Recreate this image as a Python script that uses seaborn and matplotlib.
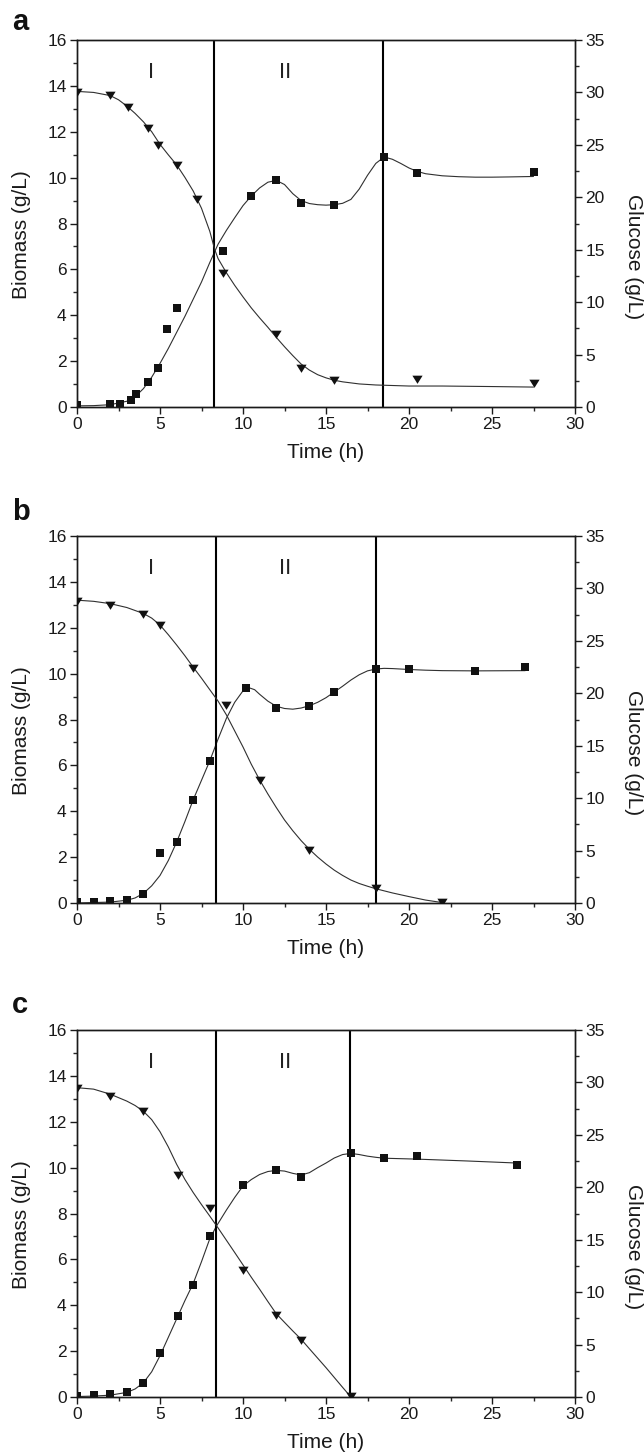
import matplotlib.pyplot as plt
import matplotlib.ticker as mticker
import seaborn as sns

sns.set_style("ticks")
plt.rcParams["font.family"] = ["Liberation Sans", "DejaVu Sans"]
plt.rcParams["axes.linewidth"] = 1.0

# -----------------------------
# Panel a  (biomass g/L, glucose g/L, time h)
# -----------------------------
a_bio_t = [0, 2.0, 2.6, 3.25, 3.55, 4.25, 4.85, 5.45, 6.05, 8.8, 10.5, 12.0, 13.5, 15.5, 18.5, 20.5, 27.5]
a_bio = [0.07, 0.12, 0.15, 0.3, 0.58, 1.1, 1.7, 3.42, 4.3, 6.8, 9.21, 9.9, 8.91, 8.8, 10.91, 10.21, 10.25]
a_glu_t = [0, 2.0, 3.1, 4.25, 4.85, 6.0, 7.2, 8.8, 12.0, 13.5, 15.5, 20.5, 27.5]
a_glu = [30.0, 29.8, 28.6, 26.6, 25.0, 23.1, 19.8, 12.8, 7.0, 3.7, 2.6, 2.65, 2.25]

a_bio_fit_t = [0, 1, 2, 3, 3.5, 4, 4.5, 5, 5.5, 6, 6.5, 7, 7.5, 8, 8.5, 9, 9.5, 10, 10.5, 11,
               11.5, 12, 12.5, 13, 13.5, 14, 14.5, 15, 15.5, 16, 16.5, 17, 17.5, 18, 18.5, 19,
               19.5, 20, 20.5, 21, 22, 23, 24, 25, 26, 27.5]
a_bio_fit = [0.05, 0.06, 0.1, 0.25, 0.45, 0.8, 1.3, 1.9, 2.55, 3.25, 3.95, 4.7, 5.45, 6.3, 7.1, 7.7,
             8.25, 8.78, 9.2, 9.55, 9.8, 9.88, 9.7, 9.3, 9.0, 8.87, 8.82, 8.8, 8.82, 8.88, 9.05,
             9.5, 10.1, 10.62, 10.9, 10.8, 10.62, 10.42, 10.27, 10.17, 10.08, 10.04, 10.02, 10.02,
             10.03, 10.05]
a_glu_fit_t = [0, 1, 2, 2.5, 3, 3.5, 4, 4.5, 5, 5.5, 6, 6.5, 7, 7.5, 8, 8.3, 8.5, 9, 9.5, 10,
               10.5, 11, 11.5, 12, 12.5, 13, 13.5, 14, 14.5, 15, 15.5, 16, 17, 18, 19, 20, 22, 25, 27.5]
a_glu_fit = [30.1, 30.0, 29.7, 29.3, 28.7, 28.0, 27.2, 26.25, 25.05, 24.05, 23.1, 21.9, 20.6, 18.95,
             16.75, 15.0, 14.15, 12.8, 11.6, 10.5, 9.45, 8.5, 7.6, 6.65, 5.75, 4.9, 4.1, 3.52,
             3.08, 2.78, 2.55, 2.4, 2.2, 2.1, 2.05, 2.0, 2.0, 1.95, 1.9]
a_phases = [8.25, 18.45]

# -----------------------------
# Panel b
# -----------------------------
b_bio_t = [0, 1, 2, 3, 4, 5, 6, 7, 8, 10.2, 12, 14, 15.5, 18, 20, 24, 27]
b_bio = [0.04, 0.04, 0.08, 0.15, 0.41, 2.19, 2.67, 4.49, 6.18, 9.38, 8.5, 8.6, 9.2, 10.2, 10.2, 10.1, 10.3]
b_glu_t = [0, 2, 4, 5, 7, 9, 11, 14, 18, 22]
b_glu = [28.8, 28.4, 27.6, 26.5, 22.4, 18.9, 11.75, 5.1, 1.4, 0.05]

b_bio_fit_t = [0, 1, 2, 3, 3.5, 4, 4.5, 5, 5.5, 6, 6.5, 7, 7.5, 8, 8.5, 9, 9.5, 10, 10.3, 10.7,
               11, 11.5, 12, 12.5, 13, 13.5, 14, 14.5, 15, 15.5, 16, 16.5, 17, 17.5, 18, 18.5,
               19, 20, 21, 22, 24, 27]
b_bio_fit = [0.0, 0.02, 0.04, 0.12, 0.22, 0.42, 0.75, 1.2, 1.85, 2.65, 3.55, 4.5, 5.35, 6.2, 7.15,
             8.05, 8.75, 9.25, 9.4, 9.3, 9.1, 8.8, 8.58, 8.48, 8.45, 8.5, 8.6, 8.75, 8.95, 9.2,
             9.45, 9.72, 9.95, 10.12, 10.2, 10.23, 10.22, 10.18, 10.15, 10.13, 10.12, 10.13]
b_glu_fit_t = [0, 1, 2, 3, 4, 4.5, 5, 5.5, 6, 6.5, 7, 7.5, 8, 8.5, 9, 9.5, 10, 10.5, 11, 11.5,
               12, 12.5, 13, 13.5, 14, 14.5, 15, 15.5, 16, 16.5, 17, 17.5, 18, 19, 20, 21, 22]
b_glu_fit = [28.88, 28.77, 28.55, 28.18, 27.61, 27.17, 26.51, 25.59, 24.61, 23.58, 22.49, 21.44,
             20.34, 19.25, 17.94, 16.41, 14.88, 13.23, 11.75, 10.39, 9.12, 7.92, 6.89, 5.95,
             5.12, 4.38, 3.72, 3.13, 2.63, 2.19, 1.86, 1.6, 1.36, 0.96, 0.61, 0.28, 0.04]
b_phases = [8.4, 18.0]

# -----------------------------
# Panel c
# -----------------------------
c_bio_t = [0, 1, 2, 3, 4, 5, 6.1, 7, 8, 10, 12, 13.5, 16.5, 18.5, 20.5, 26.5]
c_bio = [0.06, 0.1, 0.13, 0.22, 0.61, 1.92, 3.52, 4.9, 7.01, 9.23, 9.9, 9.6, 10.62, 10.41, 10.51, 10.12]
c_glu_t = [0, 2, 4, 6.1, 8, 10, 12, 13.5, 16.5]
c_glu = [29.5, 28.7, 27.3, 21.2, 18.05, 12.1, 7.85, 5.47, 0.05]

c_bio_fit_t = [0, 1, 2, 3, 3.5, 4, 4.5, 5, 5.5, 6, 6.5, 7, 7.5, 8, 8.4, 9, 9.5, 10, 10.5, 11,
               11.5, 12, 12.5, 13, 13.5, 14, 14.5, 15, 15.5, 16, 16.5, 17, 17.5, 18, 18.5, 20.5,
               23.5, 26.5]
c_bio_fit = [0.02, 0.04, 0.08, 0.2, 0.35, 0.62, 1.1, 1.8, 2.6, 3.4, 4.2, 4.95, 5.9, 6.9, 7.45,
             8.15, 8.7, 9.2, 9.48, 9.7, 9.83, 9.88, 9.85, 9.75, 9.68, 9.78, 10.0, 10.2, 10.42,
             10.57, 10.62, 10.57, 10.5, 10.45, 10.41, 10.37, 10.29, 10.2]
c_glu_fit_t = [0, 1, 2, 3, 3.5, 4, 4.5, 5, 5.5, 6, 6.5, 7, 7.5, 8, 8.5, 9, 9.5, 10, 10.5, 11,
               11.5, 12, 12.5, 13, 13.5, 14, 15, 16, 16.5]
c_glu_fit = [29.5, 29.36, 28.88, 28.22, 27.8, 27.25, 26.45, 25.3, 23.85, 22.2, 20.75, 19.5, 18.35,
             17.25, 16.12, 14.95, 13.78, 12.6, 11.42, 10.28, 9.1, 7.95, 7.12, 6.3, 5.51, 4.6,
             2.8, 0.92, 0.0]
c_phases = [8.4, 16.45]

phase_labels = ["I", "II"]
phase_label_t = [4.45, 12.55]

# down-pointing triangle, a bit wider than tall
TRI = [(-1.0, 0.75), (1.0, 0.75), (0.0, -0.85), (-1.0, 0.75)]
INK = "#111111"
CURVE = "#303030"


def draw_panel(fig, rect, letter, letter_y, bio_t, bio, glu_t, glu,
               bio_fit_t, bio_fit, glu_fit_t, glu_fit, phases):

    ax = fig.add_axes(rect)
    ax2 = ax.twinx()

    # biomass on the left axis
    sns.lineplot(x=bio_fit_t, y=bio_fit, ax=ax, color=CURVE, linewidth=0.8,
                 sort=False, estimator=None)
    sns.scatterplot(x=bio_t, y=bio, ax=ax, marker="s", s=36, color=INK,
                    linewidth=0, zorder=3)

    for t in phases:
        ax.axvline(t, color="black", linewidth=1.5, zorder=2)

    for t, lab in zip(phase_label_t, phase_labels):
        ax.text(t, 14.6, lab, ha="center", va="center", fontsize=16, color="#222222")

    # glucose on the right axis
    sns.lineplot(x=glu_fit_t, y=glu_fit, ax=ax2, color=CURVE, linewidth=0.8,
                 sort=False, estimator=None)
    sns.scatterplot(x=glu_t, y=glu, ax=ax2, marker=TRI, s=54, color=INK,
                    linewidth=0, zorder=3)

    ax.set_xlim(0, 30)
    ax.set_ylim(0, 16)
    ax2.set_ylim(0, 35)

    ax.xaxis.set_major_locator(mticker.MultipleLocator(5))
    ax.xaxis.set_minor_locator(mticker.MultipleLocator(2.5))
    ax.yaxis.set_major_locator(mticker.MultipleLocator(2))
    ax.yaxis.set_minor_locator(mticker.MultipleLocator(1))
    ax2.yaxis.set_major_locator(mticker.MultipleLocator(5))
    ax2.yaxis.set_minor_locator(mticker.MultipleLocator(2.5))

    for a in (ax, ax2):
        a.tick_params(which="major", direction="out", length=5, width=1.0,
                      labelsize=12.5, colors="#1a1a1a", pad=2.5)
        a.tick_params(which="minor", direction="out", length=3, width=1.0)
        for sp in a.spines.values():
            sp.set_linewidth(1.0)
            sp.set_color("#1a1a1a")

    ax.set_xlabel("Time (h)", fontsize=15, color="#1a1a1a", va="center")
    ax.xaxis.set_label_coords(0.5, -0.123)
    ax.set_ylabel("Biomass (g/L)", fontsize=15, color="#1a1a1a", va="center")
    ax.yaxis.set_label_coords(-0.112, 0.47)
    ax2.set_ylabel("Glucose (g/L)", fontsize=15, color="#1a1a1a", rotation=270, va="center")
    ax2.yaxis.set_label_coords(1.118, 0.41)

    fig.text(0.019, letter_y, letter, fontsize=21, fontweight="bold",
             va="baseline", ha="left", color="#111111")

    return ax


fig = plt.figure(figsize=(6.44, 14.54), dpi=100)

left, width = 77 / 644, 498 / 644
height = 367 / 1454

draw_panel(fig, [left, 1 - 407 / 1454, width, height], "a", 1 - 30 / 1454,
           a_bio_t, a_bio, a_glu_t, a_glu, a_bio_fit_t, a_bio_fit,
           a_glu_fit_t, a_glu_fit, a_phases)
draw_panel(fig, [left, 1 - 903 / 1454, width, height], "b", 1 - 520 / 1454,
           b_bio_t, b_bio, b_glu_t, b_glu, b_bio_fit_t, b_bio_fit,
           b_glu_fit_t, b_glu_fit, b_phases)
draw_panel(fig, [left, 1 - 1397 / 1454, width, height], "c", 1 - 1013 / 1454,
           c_bio_t, c_bio, c_glu_t, c_glu, c_bio_fit_t, c_bio_fit,
           c_glu_fit_t, c_glu_fit, c_phases)

plt.savefig("out.png", dpi=100)
plt.close()
